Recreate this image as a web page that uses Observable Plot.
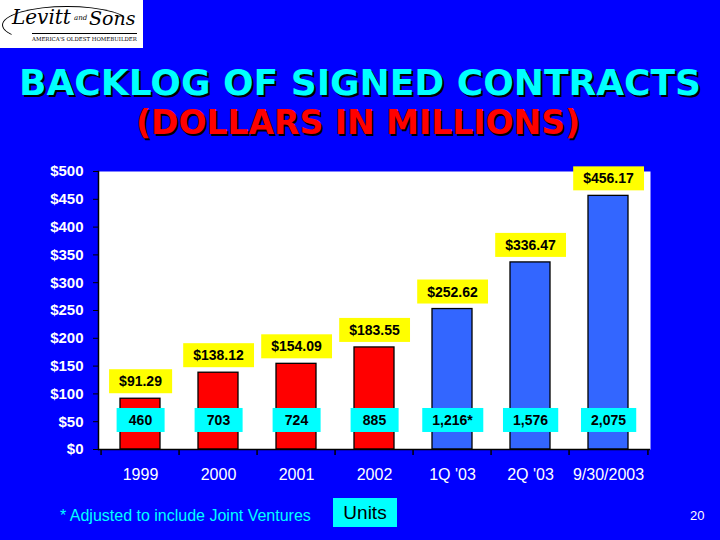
<!DOCTYPE html>
<html><head><meta charset="utf-8">
<script src="https://cdn.jsdelivr.net/npm/d3@7"></script>
<script src="https://cdn.jsdelivr.net/npm/@observablehq/plot@0.6"></script>
<style>
html,body{margin:0;padding:0;}
body{width:720px;height:540px;background:#0000FF;position:relative;overflow:hidden;font-family:Arial,"Liberation Sans",sans-serif;}
#logo{position:absolute;left:0;top:0;width:143px;height:48px;background:#fff;overflow:hidden;}
#logo .oval{position:absolute;left:2px;top:6px;width:128px;height:36px;border:1.5px solid #000;border-radius:50%;border-right-color:transparent;border-bottom-color:transparent;}
#logo .lv{position:absolute;left:12px;top:5px;font-family:"DejaVu Serif",serif;font-style:italic;font-size:20px;line-height:24px;color:#000;}
#logo .and{position:absolute;left:74px;top:14px;font-family:"DejaVu Serif",serif;font-style:italic;font-size:7px;color:#000;}
#logo .sons{position:absolute;left:89px;top:6px;font-family:"DejaVu Serif",serif;font-style:italic;font-size:19px;line-height:24px;color:#000;}
#logo .tag{position:absolute;left:32px;top:33px;font-family:"DejaVu Serif",serif;font-size:5.4px;line-height:8px;color:#000;white-space:nowrap;border-top:1px solid #000;padding-top:1px;}
.title{position:absolute;left:0;width:720px;text-align:center;font-family:"DejaVu Sans",Verdana,sans-serif;font-weight:bold;text-shadow:2px 2px 0 #000;white-space:nowrap;}
#title{top:65px;font-size:36px;line-height:36px;color:#00FFFF;}
#subtitle{top:106px;font-size:33px;line-height:33px;color:#FF0000;left:-2px;}
#chart{position:absolute;left:0;top:150px;width:720px;height:350px;}
#foot{position:absolute;left:60px;top:507px;font-size:16px;line-height:18px;color:#00FFFF;white-space:nowrap;}
#units{position:absolute;left:333px;top:498px;width:64px;height:29px;background:#00FFFF;color:#000;font-size:19px;line-height:29px;text-align:center;}
#page{position:absolute;left:690px;top:508px;font-size:13px;line-height:16px;color:#fff;}
</style></head><body>
<div id="logo"><div class="oval"></div><div class="lv">Levitt</div><div class="and">and</div><div class="sons">Sons</div><div class="tag">AMERICA'S OLDEST HOMEBUILDER</div></div>
<div class="title" id="title">BACKLOG OF SIGNED CONTRACTS</div>
<div class="title" id="subtitle">(DOLLARS IN MILLIONS)</div>
<div id="chart"></div>
<div id="foot">* Adjusted to include Joint Ventures</div>
<div id="units">Units</div>
<div id="page">20</div>
<script>
const categories = ["1999", "2000", "2001", "2002", "1Q '03", "2Q '03", "9/30/2003"];
const values = [91.29, 138.12, 154.09, 183.55, 252.62, 336.47, 456.17];
const valueLabels = ["$91.29", "$138.12", "$154.09", "$183.55", "$252.62", "$336.47", "$456.17"];
const units = ["460", "703", "724", "885", "1,216*", "1,576", "2,075"];
const kinds = ["year", "year", "year", "year", "quarter", "quarter", "quarter"];
const kindDomain = ["year", "quarter"];
const kindColors = ["#FF0000", "#3366FF"];
const yTicks = [0, 50, 100, 150, 200, 250, 300, 350, 400, 450, 500];

const data = categories.map((c, i) => ({category: c, value: values[i], label: valueLabels[i], units: units[i], kind: kinds[i]}));

const W = 720, H = 350, mL = 98, mR = 70, mT = 21, mB = 51;
const step = (W - mL - mR) / categories.length;
const font = "Arial, 'Liberation Sans', sans-serif";

const chart = Plot.plot({
  width: W, height: H, marginLeft: mL, marginRight: mR, marginTop: mT, marginBottom: mB,
  style: {background: "transparent", fontFamily: font, color: "black", overflow: "visible"},
  x: {domain: categories, paddingInner: 0.49, paddingOuter: 0.245, axis: null, label: null},
  y: {domain: [0, 500], axis: null, label: null},
  color: {domain: kindDomain, range: kindColors},
  marks: [
    Plot.frame({fill: "white", stroke: "none"}),
    Plot.barY(data, {x: "category", y: "value", fill: "kind", stroke: "black", strokeWidth: 1.3}),
    Plot.ruleY([0], {stroke: "black", strokeWidth: 1.5}),
    Plot.frame({anchor: "left", stroke: "black", strokeWidth: 1.5}),
    Plot.axisY({ticks: yTicks, tickFormat: d => "$" + d, label: null, tickSize: 5, tickPadding: 10, stroke: "black", fill: "white", fontSize: 15, fontWeight: "bold"}),
    Plot.axisX({tickSize: 0, tickPadding: 19, label: null, fill: "white", fontSize: 16}),
    Plot.axisX({tickSize: 6, tickFormat: () => "", label: null, dx: -step / 2, stroke: "black", strokeWidth: 1.5}),
    Plot.axisX([categories[categories.length - 1]], {tickSize: 6, tickFormat: () => "", label: null, dx: step / 2, stroke: "black", strokeWidth: 1.5}),
    Plot.text(data, {x: "category", y: "value", text: "label", dy: -17, fill: "black", fontSize: 14, fontWeight: "bold"}),
    Plot.text(data, {x: "category", y: 0, text: "units", dy: -29, fill: "black", fontSize: 14, fontWeight: "bold"})
  ]
});
document.getElementById("chart").append(chart);

// label boxes behind the text labels
const svg = chart.tagName.toLowerCase() === "svg" ? chart : chart.querySelector("svg");
const boxColors = ["#FFFF00", "#00FFFF"];
const minW = [0, 48];
svg.querySelectorAll('g[aria-label="text"]').forEach((g, i) => {
  g.querySelectorAll("text").forEach(t => {
    const b = t.getBBox();
    const w = Math.max(minW[i] || 0, b.width + 20);
    const r = document.createElementNS("http://www.w3.org/2000/svg", "rect");
    r.setAttribute("x", b.x + b.width / 2 - w / 2);
    r.setAttribute("y", b.y + b.height / 2 - 12);
    r.setAttribute("width", w);
    r.setAttribute("height", 24);
    r.setAttribute("fill", boxColors[i] || "none");
    r.setAttribute("stroke", "none");
    if (t.getAttribute("transform")) r.setAttribute("transform", t.getAttribute("transform"));
    t.parentNode.insertBefore(r, t);
  });
});
</script>
</body></html>
